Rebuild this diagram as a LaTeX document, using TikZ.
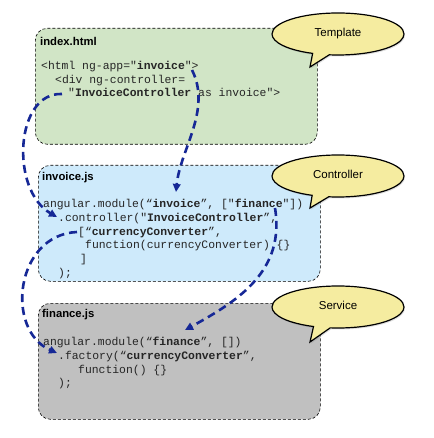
\documentclass[tikz,border=0pt]{standalone}
\usepackage{fontspec}
\setmainfont{Liberation Sans}
\setmonofont{Liberation Mono}
\usepackage{xcolor}
\usetikzlibrary{shapes.geometric, shapes.callouts, arrows.meta, positioning, calc, shadows}

\definecolor{tplgreen}{RGB}{209,229,198}
\definecolor{ctrlblue}{RGB}{206,234,251}
\definecolor{svcgray}{RGB}{192,192,192}
\definecolor{notefill}{RGB}{245,236,160}
\definecolor{linkblue}{RGB}{22,40,150}

\tikzset{
    filebox/.style={draw, dash pattern=on 3pt off 2pt, line width=0.6pt, rounded corners=12pt,
        minimum width=282pt, minimum height=116pt, anchor=north west, inner sep=0pt},
    filetitle/.style={font=\bfseries\fontsize{11.3}{13}\selectfont, anchor=west, inner sep=0pt},
    codetext/.style={font=\ttfamily\fontsize{11.4}{13.7}\selectfont, align=left, anchor=north west,
        inner sep=0pt, text=black!85},
    note/.style={ellipse callout, draw, line width=1.2pt, fill=notefill, minimum width=132pt,
        minimum height=42pt, font=\fontsize{11.5}{13}\selectfont,
        drop shadow={opacity=0.25, shadow xshift=1pt, shadow yshift=-1.5pt}},
    link/.style={linkblue, line width=2.6pt, dash pattern=on 8pt off 5pt,
        -{Triangle[length=8pt,width=7.5pt]}}
}

\begin{document}
\begin{tikzpicture}[x=1pt, y=-1pt]
    \useasboundingbox (0,0) rectangle (433,438);

    % the three files
    \node[filebox, fill=tplgreen] (indexbox) at (35,28) {};
    \node[filebox, fill=ctrlblue] (invoicebox) at (38,165) {};
    \node[filebox, fill=svcgray] (financebox) at (38,303) {};

    \node[filetitle] (indextitle) at ($(indexbox.north west)+(5,13)$) {index.html};
    \node[filetitle] (invoicetitle) at ($(invoicebox.north west)+(4,13)$) {invoice.js};
    \node[filetitle] (financetitle) at ($(financebox.north west)+(4,12)$) {finance.js};

    \node[codetext] (indexcode) at (41,61) {%
        <html ng-app="\textbf{invoice}">\\
        \hspace*{14pt}<div ng-controller=\\
        \hspace*{27pt}"\textbf{InvoiceController} as invoice">};

    \node[codetext] (invoicecode) at (43,199) {%
        angular.module(“\textbf{invoice}”, ["\textbf{finance}"])\\
        \hspace*{15pt}.controller("\textbf{InvoiceController}”,\\
        \hspace*{35pt}[“\textbf{currencyConverter}”,\\
        \hspace*{42pt}function(currencyConverter) \{\}\\
        \hspace*{37pt}]\\
        \hspace*{15pt});};

    \node[codetext] (financecode) at (43,337) {%
        angular.module(“\textbf{finance}”, [])\\
        \hspace*{15pt}.factory(“\textbf{currencyConverter}”,\\
        \hspace*{35pt}function() \{\}\\
        \hspace*{15pt});};

    % callouts
    \node[note, callout absolute pointer={(310,67)}] (tplnote) at (338,34) {\raisebox{4pt}{Template}};
    \node[note, callout absolute pointer={(310,208)}] (ctrlnote) at (338,176) {\raisebox{4pt}{Controller}};
    \node[note, callout absolute pointer={(310,342)}] (svcnote) at (338,307) {\raisebox{4pt}{Service}};

    % references between the files
    \coordinate (appuse) at (192,70);
    \coordinate (appdef) at (176,192);
    \coordinate (ctrluse) at (62,94);
    \coordinate (ctrldef) at (57,217);
    \coordinate (finuse) at (275,208);
    \coordinate (findef) at (185,330);
    \coordinate (convuse) at (77,232);
    \coordinate (convdef) at (57,353);

    \draw[link] (appuse) .. controls (212,110) and (180,150) .. (appdef);
    \draw[link] (ctrluse) .. controls (15,92) and (10,190) .. (ctrldef);
    \draw[link] (finuse) .. controls (285,270) and (240,300) .. (findef);
    \draw[link] (convuse) .. controls (15,235) and (5,330) .. (convdef);
\end{tikzpicture}
\end{document}
